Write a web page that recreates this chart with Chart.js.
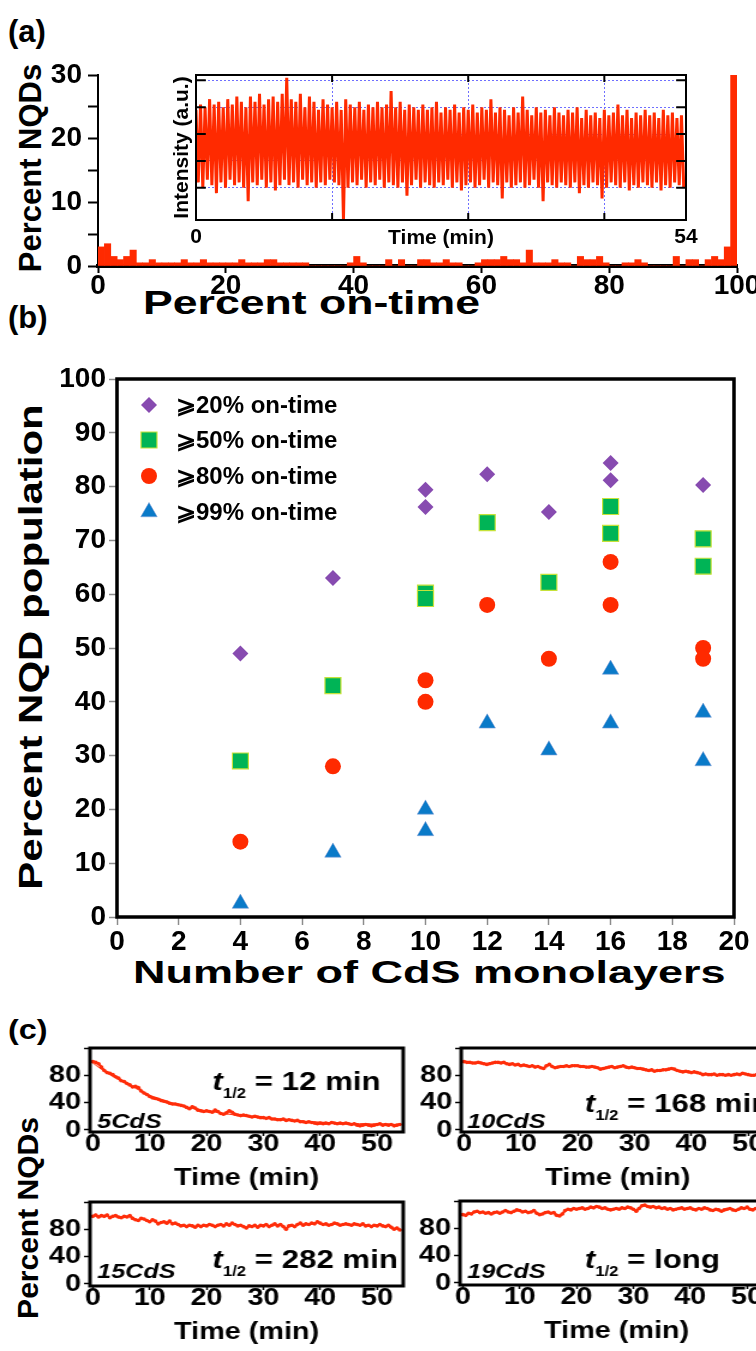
<!DOCTYPE html>
<html>
<head>
<meta charset="utf-8">
<script src="https://cdn.jsdelivr.net/npm/chart.js@4.4.1/dist/chart.umd.min.js"></script>
<style>
  html, body { margin: 0; padding: 0; background: #fff; }
  body { position: relative; width: 756px; height: 1351px; overflow: hidden; font-family: 'Liberation Sans', Arial, sans-serif; }
  canvas { position: absolute; }
  .tag { position: absolute; font-weight: bold; line-height: 1; white-space: nowrap; color: #000; }
  .vlabel { transform: translate(-50%, -50%) rotate(-90deg); }
  .stretch { transform-origin: 0 0; transform: scaleX(1.2); }
</style>
</head>
<body>
<div class="tag" style="left:8px;top:16px;font-size:31px">(a)</div>
<div class="tag vlabel" style="left:30px;top:168px;font-size:31px">Percent NQDs</div>
<div class="tag fit" data-w="337" style="left:143px;top:285px;font-size:34px">Percent on-time</div>
<div class="tag" style="left:8px;top:302px;font-size:31px">(b)</div>
<div class="tag vfit" data-w="485" style="left:30px;top:647px;font-size:33px">Percent NQD population</div>
<div class="tag fit" data-w="592" style="left:133px;top:956px;font-size:32px">Number of CdS monolayers</div>
<div class="tag stretch" style="left:8px;top:1017px;font-size:27px">(c)</div>
<div class="tag vlabel" style="left:28px;top:1218px;font-size:30px">Percent NQDs</div>

<canvas id="hist" width="800" height="280" style="left:0;top:50px"></canvas>
<canvas id="inset" width="580" height="200" style="left:140px;top:60px"></canvas>
<canvas id="scatter" width="800" height="660" style="left:0;top:340px"></canvas>
<canvas id="c5" class="stretch" width="345" height="150" style="left:0;top:1040px"></canvas>
<canvas id="c10" class="stretch" width="330" height="150" style="left:400px;top:1040px"></canvas>
<canvas id="c15" class="stretch" width="345" height="150" style="left:0;top:1194px"></canvas>
<canvas id="c19" class="stretch" width="330" height="150" style="left:400px;top:1193px"></canvas>

<script>
// (a) share of NQDs per 1 % on-time bin
const onTimeCounts = [
  3.0, 3.5, 1.5, 1.0, 1.5, 2.5, 0.5, 0.5, 1.0, 0.5,
  0.5, 0.5, 0.5, 1.0, 0.5, 0.5, 1.0, 0.5, 0.5, 0.5,
  0.5, 0.5, 1.0, 0.5, 0.5, 0.5, 1.0, 1.0, 0.5, 0.5,
  0.5, 0.5, 0.5, 0, 0, 0, 0, 0, 0, 0.5,
  1.5, 0.5, 0, 0, 0, 1.0, 0, 1.0, 0, 0,
  1.0, 1.0, 0.5, 0.5, 1.0, 0.5, 0.5, 0, 0, 0.5,
  1.0, 1.0, 1.0, 1.5, 1.0, 1.0, 0.5, 2.5, 0.5, 0.5,
  0.5, 1.0, 0.5, 0.5, 0, 1.5, 1.0, 1.0, 1.5, 0.5,
  0, 0, 0.5, 0.5, 1.0, 0.5, 0, 0, 0, 0,
  1.5, 0, 1.0, 1.0, 0, 1.0, 1.5, 1.0, 3.0, 30
];

// (a) inset: single-dot intensity trace, upper / lower swing per half minute
const insetHigh = [
  3.9, 4.1, 4.0, 4.3, 4.1, 4.2, 4.0, 4.3, 4.1, 4.4,
  4.2, 4.0, 4.4, 4.2, 4.5, 4.1, 4.3, 4.4, 4.2, 4.5,
  5.1, 4.3, 4.2, 4.5, 4.0, 4.4, 4.2, 3.9, 4.3, 4.1,
  4.0, 4.2, 3.9, 4.3, 4.1, 4.0, 4.2, 3.9, 4.1, 4.0,
  4.2, 4.0, 4.1, 4.6, 4.0, 4.2, 3.9, 4.1, 4.0, 3.9,
  4.1, 3.9, 4.0, 4.2, 3.8, 4.0, 3.9, 4.1, 3.8, 4.0,
  3.9, 4.1, 3.8, 4.0, 3.9, 4.3, 3.8, 4.0, 3.9, 3.7,
  4.0, 3.8, 4.4, 3.9, 3.7, 4.0, 3.8, 3.9, 3.7, 4.0,
  3.8, 3.7, 3.9, 3.8, 4.0, 3.6, 3.9, 3.7, 3.8, 3.6,
  3.9, 3.7, 3.8, 4.1, 3.7, 3.9, 3.6, 3.8, 3.7, 3.9,
  3.7, 3.8, 3.6, 3.9, 3.7, 3.8, 3.6, 3.7
];
const insetLow = [
  1.2, 1.0, 1.3, 1.1, 0.8, 1.2, 1.0, 1.3, 1.1, 1.2,
  1.0, 0.5, 1.2, 1.1, 1.3, 1.0, 1.2, 0.9, 1.1, 1.3,
  1.1, 1.2, 1.0, 1.3, 1.1, 1.2, 1.0, 1.2, 1.1, 1.3,
  1.2, 1.1, -0.2, 1.0, 1.2, 1.1, 1.3, 1.0, 1.2, 1.1,
  1.3, 1.0, 1.2, 1.1, 1.0, 1.2, 0.7, 1.1, 1.3, 1.0,
  1.2, 1.1, 1.0, 1.2, 1.1, 1.3, 1.0, 1.2, 0.9, 1.1,
  1.2, 1.0, 1.1, 1.3, 1.0, 1.2, 1.1, 0.6, 1.2, 1.0,
  1.1, 1.2, 1.0, 1.1, 1.3, 1.0, 0.5, 1.2, 1.1, 1.0,
  1.2, 1.1, 1.0, 1.2, 0.8, 1.1, 1.0, 1.2, 1.1, 0.6,
  1.0, 1.2, 1.1, 1.0, 1.2, 0.9, 1.1, 1.0, 1.2, 1.1,
  1.0, 1.2, 0.9, 1.1, 1.0, 1.2, 1.1, 1.0
];
const insetTimeGrid = [0, 15, 30, 45, 54];
const insetLevelGrid = [1, 2, 3, 4, 5];

// (b) population above each on-time threshold vs shell thickness
const shells20 = [4, 7, 10, 10, 12, 14, 16, 16, 19];
const onTime20 = [49, 63, 79.4, 76.2, 82.3, 75.3, 84.4, 81.2, 80.3];
const shells50 = [4, 7, 10, 10, 12, 14, 16, 16, 19, 19];
const onTime50 = [29, 43, 60.2, 59.2, 73.3, 62.2, 76.3, 71.3, 70.3, 65.2];
const shells80 = [4, 7, 10, 10, 12, 14, 16, 16, 19, 19];
const onTime80 = [14, 28, 44, 40, 58, 48, 66, 58, 50, 48];
const shells99 = [4, 7, 10, 10, 12, 14, 16, 16, 19, 19];
const onTime99 = [2.5, 12, 20, 16, 36, 31, 46, 36, 38, 29];
const thresholdLabels = ['⩾20% on-time', '⩾50% on-time', '⩾80% on-time', '⩾99% on-time'];

// (c) fraction of emitting NQDs, sampled every half minute from 0 to 54 min
const traceTimes = Array.from({ length: 109 }, (_, i) => i * 0.5);
const emitting5 = [
  100, 99, 97, 92, 87, 84, 83, 81, 78, 76,
  72, 71, 68, 66, 63, 64, 62, 57, 54, 52,
  49, 47, 46, 45, 43, 42, 41, 39, 38, 38,
  37, 36, 35, 33, 31, 34, 32, 29, 28, 27,
  28, 27, 26, 29, 27, 24, 23, 25, 28, 26,
  23, 22, 21, 22, 21, 20, 19, 20, 19, 18,
  18, 17, 18, 16, 16, 15, 15, 16, 14, 15,
  14, 13, 14, 12, 12, 11, 12, 11, 10, 9,
  10, 9, 10, 9, 11, 10, 9, 10, 9, 10,
  9, 8, 9, 7, 6, 7, 8, 7, 6, 7,
  8, 9, 7, 8, 7, 8, 6, 7, 8
];
const emitting10 = [
  100, 99, 99, 98, 98, 99, 98, 97, 96, 97,
  98, 99, 99, 98, 99, 97, 96, 97, 95, 96,
  94, 95, 94, 93, 94, 92, 93, 91, 90, 94,
  96, 93, 91, 92, 93, 93, 94, 93, 94, 94,
  94, 93, 93, 92, 92, 93, 92, 91, 89, 90,
  91, 92, 93, 91, 92, 93, 94, 92, 91, 92,
  91, 90, 90, 89, 88, 87, 88, 86, 87, 87,
  88, 88, 89, 90, 89, 87, 86, 85, 86, 85,
  84, 85, 84, 83, 81, 82, 81, 81, 82, 80,
  81, 81, 80, 81, 80, 81, 82, 81, 83, 82,
  81, 80, 80, 81, 80, 79, 80, 79, 79
];
const emitting15 = [
  99, 101, 98, 100, 99, 101, 97, 99, 100, 98,
  97, 99, 98, 100, 96, 94, 93, 96, 95, 93,
  91, 94, 92, 88, 90, 91, 89, 92, 88, 89,
  87, 85, 86, 84, 86, 85, 83, 86, 84, 86,
  85, 87, 86, 84, 86, 87, 85, 88, 86, 89,
  87, 85, 86, 84, 82, 85, 84, 86, 83, 86,
  85, 87, 84, 86, 88, 85, 87, 84, 80, 85,
  86, 84, 87, 89, 86, 88, 87, 89, 88, 91,
  89, 87, 88, 86, 87, 89, 88, 86, 87, 88,
  87, 86, 88, 87, 86, 88, 85, 86, 84, 86,
  85, 87, 85, 84, 86, 83, 80, 82, 79
];
const emitting19 = [
  100, 99, 102, 101, 104, 105, 103, 104, 102, 103,
  101, 103, 104, 102, 104, 106, 104, 103, 105, 107,
  106, 104, 105, 103, 104, 106, 102, 100, 101, 103,
  104, 102, 103, 99, 98, 101, 106, 108, 107, 109,
  108, 109, 110, 108, 109, 111, 110, 112, 111, 109,
  110, 108, 107, 108, 109, 108, 110, 109, 111, 110,
  108, 105, 109, 113, 114, 112, 111, 112, 110, 111,
  109, 110, 108, 109, 107, 108, 109, 110, 108, 109,
  110, 108, 107, 109, 108, 110, 109, 107, 106, 108,
  107, 105, 107, 108, 109, 107, 106, 108, 110, 109,
  111, 108, 107, 109, 108, 106, 108, 107, 109
];
// single-exponential fit drawn over the 5CdS trace
const fit5Times = [0, 2, 4, 6, 8, 10, 12, 14, 16, 18, 20, 24, 28, 32, 36, 40, 44, 48, 54];
const fit5Values = [98, 86, 76, 67, 59, 51, 45, 39.5, 35, 31, 28, 23, 19, 16, 13.5, 11.5, 10, 9, 8];
const sampleNames = ['5CdS', '10CdS', '15CdS', '19CdS'];
const halfLives = ['12 min', '168 min', '282 min', 'long'];
const timeTicks = [0, 10, 20, 30, 40, 50];
const percentTicks = [0, 20, 40, 60, 80, 100, 120];
const percentLabels = [0, 40, 80];

const FONT = "'Liberation Sans', Arial, Helvetica, sans-serif";
Chart.defaults.font.family = FONT;
Chart.defaults.font.weight = 'bold';
Chart.defaults.color = '#000';
Chart.defaults.animation = false;
Chart.defaults.plugins.legend.display = false;
Chart.defaults.plugins.tooltip.enabled = false;

// wide axis titles: stretch each one to the span it covers
document.querySelectorAll('.fit').forEach(el => {
  const k = el.dataset.w / el.offsetWidth;
  el.style.transformOrigin = '0 0';
  el.style.transform = `scaleX(${k})`;
});
document.querySelectorAll('.vfit').forEach(el => {
  const k = el.dataset.w / el.offsetWidth;
  el.style.transform = `translate(-50%, -50%) rotate(-90deg) scaleX(${k})`;
});

// keep axis boxes at a fixed size so the plot areas land where they should
function lockScale(size, horizontal) {
  return scale => {
    if (horizontal) scale.height = size; else scale.width = size;
    scale.paddingLeft = 0; scale.paddingRight = 0;
    scale.paddingTop = 0; scale.paddingBottom = 0;
  };
}
function fixedTicks(values) {
  return scale => { scale.ticks = values.map(v => ({ value: v })); };
}

// box around the plot area, optionally with short inward ticks
const framePlugin = {
  id: 'frame',
  afterDraw(chart, args, opts) {
    const { ctx, chartArea: a, scales } = chart;
    ctx.save();
    ctx.strokeStyle = '#000';
    if (opts.inner) {
      ctx.lineWidth = 2;
      ctx.beginPath();
      scales.x.ticks.forEach(t => {
        const px = scales.x.getPixelForValue(t.value);
        if (px <= a.left + 1 || px >= a.right - 1) return;
        ctx.moveTo(px, a.top); ctx.lineTo(px, a.top + opts.inner);
        ctx.moveTo(px, a.bottom); ctx.lineTo(px, a.bottom - opts.inner);
      });
      scales.y.ticks.forEach(t => {
        const py = scales.y.getPixelForValue(t.value);
        if (py <= a.top + 1 || py >= a.bottom - 1) return;
        ctx.moveTo(a.left, py); ctx.lineTo(a.left + opts.inner * 1.4, py);
        ctx.moveTo(a.right, py); ctx.lineTo(a.right - opts.inner * 1.4, py);
      });
      ctx.stroke();
    }
    ctx.lineWidth = opts.width;
    ctx.strokeRect(a.left, a.top, a.right - a.left, a.bottom - a.top);
    ctx.restore();
  }
};

// ---------- (a) histogram ----------
new Chart(document.getElementById('hist'), {
  type: 'bar',
  data: {
    datasets: [{
      data: onTimeCounts.map((v, i) => ({ x: i + 0.5, y: v })),
      backgroundColor: '#ff2a00',
      borderWidth: 0,
      barPercentage: 1,
      categoryPercentage: 1
    }]
  },
  options: {
    responsive: false,
    layout: { padding: { left: 0, top: 25, right: 63, bottom: 0 } },
    scales: {
      x: {
        type: 'linear', min: 0, max: 100, offset: false,
        ticks: { stepSize: 20, maxRotation: 0, padding: -1, font: { size: 28, lineHeight: 1 } },
        grid: { offset: false, drawOnChartArea: false, tickLength: 7, tickWidth: 2, tickColor: '#000' },
        border: { color: '#000', width: 4 },
        afterFit: lockScale(64, true)
      },
      y: {
        min: 0, max: 30,
        ticks: { stepSize: 5, padding: 6, font: { size: 28, lineHeight: 1 }, callback: v => (v % 10 === 0 ? v : '') },
        grid: { drawOnChartArea: false, tickLength: 10, tickWidth: 2, tickColor: '#000' },
        border: { color: '#000', width: 2 },
        afterFit: lockScale(98, false)
      }
    }
  }
});

// ---------- (a) inset trace ----------
const insetPoints = [];
insetHigh.forEach((hi, i) => {
  insetPoints.push({ x: i * 0.5, y: hi });
  insetPoints.push({ x: i * 0.5 + 0.25, y: insetLow[i] });
});
new Chart(document.getElementById('inset'), {
  type: 'line',
  data: {
    datasets: [{ data: insetPoints, borderColor: '#ff2a00', borderWidth: 3, pointRadius: 0, tension: 0 }]
  },
  options: {
    responsive: false,
    layout: { padding: { left: 0, top: 15, right: 34, bottom: 0 } },
    scales: {
      x: {
        type: 'linear', min: 0, max: 54,
        afterBuildTicks: fixedTicks(insetTimeGrid),
        ticks: { padding: 7, font: { size: 21, lineHeight: 1 }, maxRotation: 0, callback: v => (v === 0 || v === 54 ? v : '') },
        grid: { color: '#6f6fff', lineWidth: 1, drawTicks: false, borderDash: [2, 2] },
        border: { display: false, dash: [2, 2] },
        title: { display: true, text: 'Time (min)', font: { size: 21, lineHeight: 1 }, padding: { top: 0, bottom: 11 } },
        afterFit: lockScale(40, true)
      },
      y: {
        min: -0.2, max: 5.2,
        afterBuildTicks: fixedTicks(insetLevelGrid),
        ticks: { display: false },
        grid: { color: '#6f6fff', lineWidth: 1, drawTicks: false, borderDash: [2, 2] },
        border: { display: false, dash: [2, 2] },
        title: { display: true, text: 'Intensity (a.u.)', font: { size: 21, lineHeight: 1 }, padding: { top: 32, bottom: 0 } },
        afterFit: lockScale(56, false)
      }
    },
    plugins: { frame: { width: 2, inner: 7 } }
  },
  plugins: [framePlugin]
});

// ---------- (b) on-time populations ----------
const onTimeLegend = {
  id: 'onTimeLegend',
  afterDraw(chart, args, opts) {
    const ctx = chart.ctx;
    ctx.save();
    chart.data.datasets.forEach((ds, i) => {
      const y = opts.rows[i];
      ctx.fillStyle = ds.backgroundColor;
      ctx.strokeStyle = ds.borderColor;
      ctx.lineWidth = ds.borderWidth;
      Chart.helpers.drawPoint(ctx, { pointStyle: ds.pointStyle, radius: ds.pointRadius, rotation: 0, borderWidth: ds.borderWidth }, opts.symbolX, y);
      ctx.fillStyle = '#000';
      ctx.font = opts.font;
      ctx.textBaseline = 'middle';
      ctx.fillText(ds.label, opts.textX, y + 1);
    });
    ctx.restore();
  }
};
const toPoints = (xs, ys) => xs.map((x, i) => ({ x, y: ys[i] }));
const tickStyle = { drawOnChartArea: false, tickLength: 8, tickWidth: 1.5, tickColor: '#8c8c8c' };
new Chart(document.getElementById('scatter'), {
  type: 'scatter',
  data: {
    datasets: [
      { label: thresholdLabels[0], data: toPoints(shells20, onTime20), pointStyle: 'rectRot', pointRadius: 8, backgroundColor: '#874bb0', borderColor: '#874bb0', borderWidth: 0 },
      { label: thresholdLabels[1], data: toPoints(shells50, onTime50), pointStyle: 'rect', pointRadius: 11.3, backgroundColor: '#00b456', borderColor: '#c6e23a', borderWidth: 1.2 },
      { label: thresholdLabels[2], data: toPoints(shells80, onTime80), pointStyle: 'circle', pointRadius: 8, backgroundColor: '#ff2a00', borderColor: '#ff2a00', borderWidth: 0 },
      { label: thresholdLabels[3], data: toPoints(shells99, onTime99), pointStyle: 'triangle', pointRadius: 9.5, backgroundColor: '#0a7ac8', borderColor: '#7f9fd6', borderWidth: 0.6 }
    ]
  },
  options: {
    responsive: false,
    layout: { padding: { left: 0, top: 39, right: 66, bottom: 0 } },
    scales: {
      x: {
        type: 'linear', min: 0, max: 20,
        ticks: { stepSize: 2, padding: 3, maxRotation: 0, font: { size: 28, lineHeight: 1 } },
        grid: tickStyle,
        border: { display: false },
        afterFit: lockScale(83, true)
      },
      y: {
        min: 0, max: 100,
        ticks: { stepSize: 10, padding: 3, font: { size: 28, lineHeight: 1 } },
        grid: tickStyle,
        border: { display: false },
        afterFit: lockScale(117, false)
      }
    },
    plugins: {
      frame: { width: 3.5 },
      onTimeLegend: { rows: [65, 100, 136, 172], symbolX: 149, textX: 176, font: `bold 24px ${FONT}` }
    }
  },
  plugins: [framePlugin, onTimeLegend]
});

// ---------- (c) blinking decay traces ----------
const halfLifePlugin = {
  id: 'halfLife',
  afterDraw(chart, args, opts) {
    const ctx = chart.ctx;
    ctx.save();
    ctx.fillStyle = '#000';
    ctx.textBaseline = 'alphabetic';
    let x = opts.x;
    ctx.font = `italic bold 26px ${FONT}`;
    ctx.fillText('t', x, opts.y);
    x += ctx.measureText('t').width;
    ctx.font = `bold 14px ${FONT}`;
    ctx.fillText('1/2', x, opts.y + 8);
    x += ctx.measureText('1/2').width;
    ctx.font = `bold 26px ${FONT}`;
    ctx.fillText(' = ' + opts.value, x, opts.y);
    ctx.font = `italic bold 21px ${FONT}`;
    ctx.fillText(opts.sample, opts.sx, opts.sy);
    ctx.restore();
  }
};

function traceChart(id, values, idx, left, right, note) {
  const datasets = [{
    data: toPoints(traceTimes, values),
    borderColor: '#ff2d0a', backgroundColor: '#ff2d0a',
    borderWidth: 2.4, pointRadius: 1.8, pointBorderWidth: 0, tension: 0
  }];
  if (idx === 0) {
    datasets.push({
      data: toPoints(fit5Times, fit5Values),
      borderColor: '#ff2d0a', borderWidth: 1, pointRadius: 0, tension: 0.4
    });
  }
  const canvas = document.getElementById(id);
  new Chart(canvas, {
    type: 'line',
    data: { datasets },
    options: {
      responsive: false,
      layout: { padding: { left: 0, top: 8, right: canvas.width - right, bottom: 0 } },
      scales: {
        x: {
          type: 'linear', min: -0.5, max: 54.6,
          afterBuildTicks: fixedTicks(timeTicks),
          ticks: { padding: -4, maxRotation: 0, font: { size: 24, lineHeight: 1 } },
          grid: { drawOnChartArea: false, tickLength: 4, tickWidth: 1.5, tickColor: '#000' },
          border: { display: false },
          title: { display: true, text: 'Time (min)', font: { size: 24, lineHeight: 1 }, padding: { top: 0, bottom: 0 } },
          afterFit: lockScale(canvas.height - 92, true)
        },
        y: {
          min: -3, max: 120,
          afterBuildTicks: fixedTicks(percentTicks),
          ticks: { padding: 2.5, font: { size: 24, lineHeight: 1 }, callback: v => (percentLabels.includes(v) ? v : '') },
          grid: { drawOnChartArea: false, tickLength: 5, tickWidth: 1.5, tickColor: '#000' },
          border: { display: false },
          afterFit: lockScale(left, false)
        }
      },
      plugins: {
        frame: { width: 3 },
        halfLife: Object.assign({ value: halfLives[idx], sample: sampleNames[idx] }, note)
      }
    },
    plugins: [framePlugin, halfLifePlugin]
  });
}

traceChart('c5', emitting5, 0, 75, 336, { x: 177, y: 50, sx: 81, sy: 88 });
traceChart('c10', emitting10, 1, 51, 312, { x: 154, y: 72, sx: 56, sy: 88 });
traceChart('c15', emitting15, 2, 75, 336, { x: 177, y: 74, sx: 81, sy: 84 });
traceChart('c19', emitting19, 3, 50, 311, { x: 154, y: 75, sx: 56, sy: 85 });
</script>
</body>
</html>
